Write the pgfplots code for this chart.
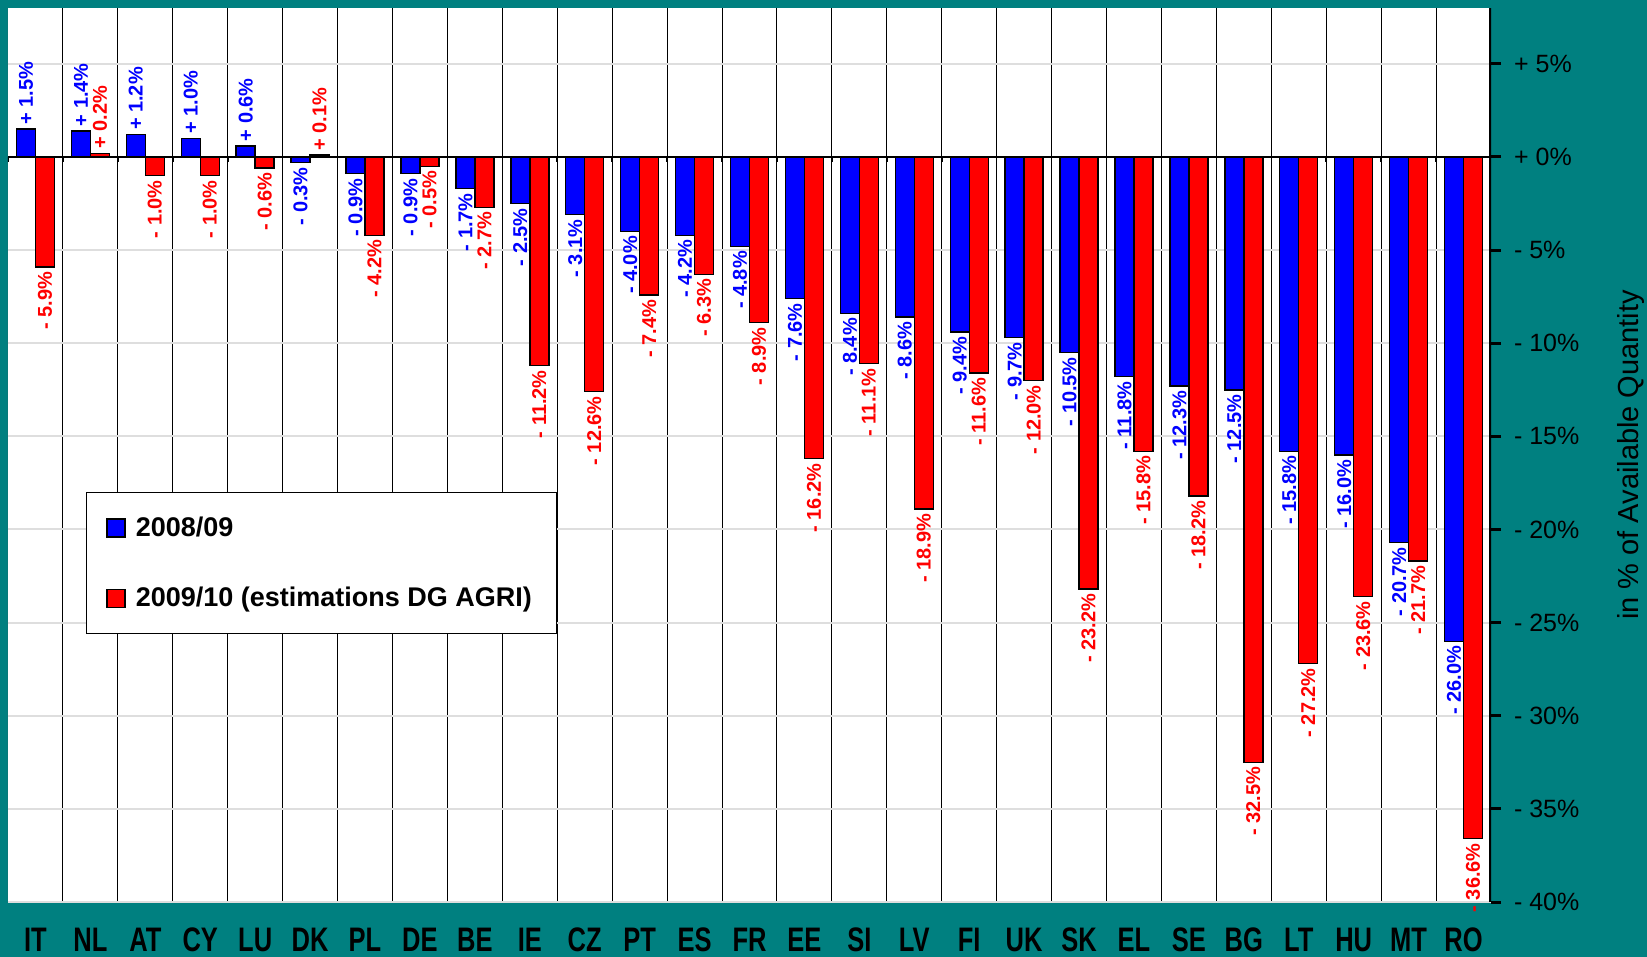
\documentclass[border=0pt]{standalone}
\usepackage{fontspec}
\setmainfont{Liberation Sans}
\newfontfamily\narrowfont{Liberation Sans}[FakeStretch=0.75]
\usepackage{graphicx}
\usepackage{pgfplots}
\pgfplotsset{compat=1.18}
\usetikzlibrary{backgrounds,calc}
\definecolor{tealbg}{RGB}{0,128,128}
\definecolor{barblue}{RGB}{0,0,255}
\definecolor{barred}{RGB}{255,0,0}
\definecolor{gridgray}{RGB}{222,222,222}

\pgfplotsset{
  bluebars/.style={ybar, bar width=9.5pt, bar shift=-4.75pt, fill=barblue, draw=black, line width=0.7pt,
    point meta=explicit symbolic, nodes near coords={\rotatebox{90}{\pgfplotspointmeta}},
    nodes near coords style={xshift=-4.75pt, text=barblue, font=\bfseries\fontsize{10}{12}\selectfont, inner sep=2pt}},
  redbars/.style={ybar, bar width=9.5pt, bar shift=4.75pt, fill=barred, draw=black, line width=0.7pt,
    point meta=explicit symbolic, nodes near coords={\rotatebox{90}{\pgfplotspointmeta}},
    nodes near coords style={xshift=4.75pt, text=barred, font=\bfseries\fontsize{10}{12}\selectfont, inner sep=2pt}},
}

\begin{document}
\begin{tikzpicture}
\begin{axis}[
  scale only axis, width=741.5pt, height=447pt,
  xmin=-0.5, xmax=26.5, ymin=-40, ymax=8,
  axis background/.style={fill=white},
  axis line style={draw=none},
  xtick={0,...,26},
  xticklabels={IT,NL,AT,CY,LU,DK,PL,DE,BE,IE,CZ,PT,ES,FR,EE,SI,LV,FI,UK,SK,EL,SE,BG,LT,HU,MT,RO},
  x tick style={draw=none},
  xticklabel style={font=\narrowfont\bfseries\fontsize{17}{18}\selectfont, anchor=base, inner sep=0pt, text depth=0pt, yshift=-19.5pt},
  minor xtick={0.5,1.5,...,25.5},
  xminorgrids, minor tick length=0pt,
  minor x grid style={black, line width=0.5pt},
  ytick={-40,-35,...,5},
  yticklabels={- 40\%,- 35\%,- 30\%,- 25\%,- 20\%,- 15\%,- 10\%,- 5\%,+ 0\%,+ 5\%},
  ymajorgrids, y grid style={gridgray, line width=1pt},
  ytick pos=right, yticklabel pos=right,
  tick align=outside, major tick length=5pt,
  y tick style={black, line width=1.5pt},
  yticklabel style={font=\fontsize{12.5}{14}\selectfont, xshift=3pt},
  ylabel={in \% of Available Quantity},
  every axis y label/.style={at={(rel axis cs:1,0.5)}, xshift=70pt, rotate=90, anchor=center, inner sep=0pt, font=\fontsize{14.5}{16}\selectfont},
  legend cell align=left,
  legend style={at={(axis cs:0.92,-18)}, anchor=north west, draw=black, fill=white,
    font=\bfseries\fontsize{13.5}{15}\selectfont, inner xsep=10pt, inner ysep=10pt, row sep=20pt,
    /tikz/every odd column/.append style={column sep=3pt}},
]
\addplot[bluebars, nodes near coords align={anchor=south},
  legend image code/.code={\draw[fill=barblue, draw=black, line width=0.7pt] (0pt,-4.5pt) rectangle (9pt,4.5pt);}]
  coordinates {(0,1.5) [+ 1.5\%] (1,1.4) [+ 1.4\%] (2,1.2) [+ 1.2\%] (3,1.0) [+ 1.0\%] (4,0.6) [+ 0.6\%]};
\addlegendentry{2008/09}
\addplot[redbars, nodes near coords align={anchor=south},
  legend image code/.code={\draw[fill=barred, draw=black, line width=0.7pt] (0pt,-4.5pt) rectangle (9pt,4.5pt);}]
  coordinates {(1,0.2) [+ 0.2\%] (5,0.1) [+ 0.1\%]};
\addlegendentry{2009/10 (estimations DG AGRI)}
\addplot[forget plot, bluebars, nodes near coords align={anchor=north}]
  coordinates {(5,-0.3) [- 0.3\%] (6,-0.9) [- 0.9\%] (7,-0.9) [- 0.9\%] (8,-1.7) [- 1.7\%]
    (9,-2.5) [- 2.5\%] (10,-3.1) [- 3.1\%] (11,-4.0) [- 4.0\%] (12,-4.2) [- 4.2\%]
    (13,-4.8) [- 4.8\%] (14,-7.6) [- 7.6\%] (15,-8.4) [- 8.4\%] (16,-8.6) [- 8.6\%]
    (17,-9.4) [- 9.4\%] (18,-9.7) [- 9.7\%] (19,-10.5) [- 10.5\%] (20,-11.8) [- 11.8\%]
    (21,-12.3) [- 12.3\%] (22,-12.5) [- 12.5\%] (23,-15.8) [- 15.8\%] (24,-16.0) [- 16.0\%]
    (25,-20.7) [- 20.7\%] (26,-26.0) [- 26.0\%]};
\addplot[forget plot, redbars, nodes near coords align={anchor=north}]
  coordinates {(0,-5.9) [- 5.9\%] (2,-1.0) [- 1.0\%] (3,-1.0) [- 1.0\%] (4,-0.6) [- 0.6\%]
    (6,-4.2) [- 4.2\%] (7,-0.5) [- 0.5\%] (8,-2.7) [- 2.7\%] (9,-11.2) [- 11.2\%]
    (10,-12.6) [- 12.6\%] (11,-7.4) [- 7.4\%] (12,-6.3) [- 6.3\%] (13,-8.9) [- 8.9\%]
    (14,-16.2) [- 16.2\%] (15,-11.1) [- 11.1\%] (16,-18.9) [- 18.9\%] (17,-11.6) [- 11.6\%]
    (18,-12.0) [- 12.0\%] (19,-23.2) [- 23.2\%] (20,-15.8) [- 15.8\%] (21,-18.2) [- 18.2\%]
    (22,-32.5) [- 32.5\%] (23,-27.2) [- 27.2\%] (24,-23.6) [- 23.6\%] (25,-21.7) [- 21.7\%]
    (26,-36.6) [- 36.6\%]};
\draw[black, line width=0.8pt] (axis cs:-0.5,0) -- (axis cs:26.5,0);
\pgfplotsinvokeforeach{-0.5,0.5,1.5,2.5,3.5,4.5,5.5,6.5,7.5,8.5,9.5,10.5,11.5,12.5,13.5,14.5,15.5,16.5,17.5,18.5,19.5,20.5,21.5,22.5,23.5,24.5,25.5}{
  \draw[black, line width=0.8pt] (axis cs:#1,0) -- ([yshift=-2.5pt]axis cs:#1,0);}
\draw[black, line width=2pt] (rel axis cs:1,0) -- (rel axis cs:1,1);
\draw[black!70, line width=0.5pt] (rel axis cs:0,0) -- (rel axis cs:0,1);
\coordinate (SW) at (rel axis cs:0,0);
\coordinate (NE) at (rel axis cs:1,1);
\end{axis}
\pgfresetboundingbox
\begin{pgfonlayer}{background}
\fill[tealbg] ($(SW)+(-4pt,-27.5pt)$) rectangle ($(NE)+(78pt,4pt)$);
\end{pgfonlayer}
\end{tikzpicture}
\end{document}
